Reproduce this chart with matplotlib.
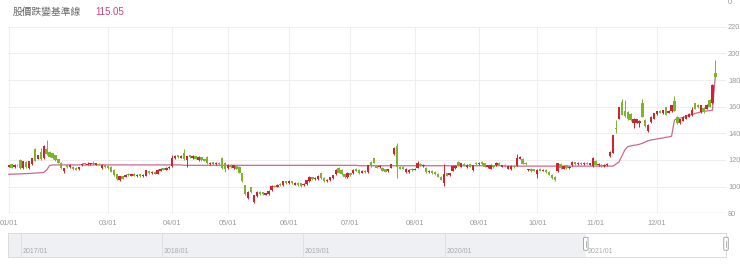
import matplotlib.pyplot as plt
import numpy as np
from matplotlib.patches import FancyBboxPatch
from matplotlib.transforms import IdentityTransform

plt.rcParams['font.family'] = ['Liberation Sans', 'Noto Sans CJK TC', 'DejaVu Sans']

title_text = "股價跌變基準線"
title_value = "115.05"

# trading-day index where each month starts (02/01 label is hidden in the original)
month_labels = ["01/01", "03/01", "04/01", "05/01", "06/01", "07/01",
                "08/01", "09/01", "10/01", "11/01", "12/01"]
month_pos = [0, 34, 56, 75, 96, 117, 139, 161, 181, 201, 222]
price_ticks = [80, 100, 120, 140, 160, 180, 200, 220]

# overview slider (years)
slider_years = [2017, 2018, 2019, 2020, 2021]
slider_range = (2016.908, 2021.993)
window = (2021.0, 2021.993)

opens = [
    115.0, 116.8, 114.5, 116.5, 120.0, 114.0, 118.5, 114.0, 116.8, 128.5,
    121.0, 126.0, 121.5, 128.5, 126.0, 125.0, 123.5, 120.5, 117.8, 111.5,
    116.0, 114.5, 114.8, 114.0, 113.0, 116.2, 117.5, 116.5, 116.8, 117.6,
    116.5, 117.3, 114.0, 116.0, 115.2, 114.8, 112.5, 109.3, 105.2, 107.8,
    107.5, 109.5, 108.2, 109.5, 108.0, 109.2, 108.0, 108.3, 111.5, 110.0,
    111.0, 109.8, 112.0, 113.8, 112.8, 114.0, 115.5, 121.5, 123.5, 121.8,
    125.0, 120.0, 123.5, 121.5, 122.8, 120.0, 122.0, 120.5, 122.5, 117.0,
    118.2, 116.8, 118.0, 121.5, 118.0, 113.8, 116.5, 114.0, 115.5, 114.8,
    110.0, 101.0, 91.5, 99.5, 88.5, 93.0, 96.0, 95.8, 94.0, 94.2,
    97.5, 100.8, 100.0, 102.0, 101.0, 104.0, 102.5, 104.0, 101.5, 102.8,
    102.5, 101.0, 102.0, 104.3, 107.0, 105.5, 105.8, 110.0, 106.5, 104.0,
    105.0, 106.5, 109.3, 114.0, 112.8, 109.3, 107.2, 110.0, 110.0, 113.5,
    112.5, 110.5, 112.0, 111.0, 118.5, 121.3, 116.0, 114.5, 114.0, 113.0,
    111.5, 114.2, 124.5, 130.5, 115.0, 114.8, 111.0, 110.8, 113.2, 112.8,
    114.3, 117.0, 115.5, 114.0, 111.0, 112.0, 111.3, 109.8, 107.5, 102.5,
    110.0, 108.5, 112.0, 114.0, 118.5, 115.0, 117.0, 114.5, 116.8, 112.6,
    118.0, 116.8, 118.5, 117.5, 114.5, 113.5, 116.0, 116.0, 118.0, 115.0,
    116.2, 113.5, 113.2, 115.8, 115.8, 121.0, 120.8, 117.8, 112.3, 113.5,
    113.0, 109.2, 113.2, 112.0, 112.5, 111.0, 109.0, 107.5, 111.5, 117.0,
    113.5, 116.0, 114.0, 116.0, 118.2, 116.8, 118.0, 116.8, 118.0, 116.5,
    115.3, 119.5, 116.2, 116.5, 115.3, 116.0, 123.0, 125.5, 143.8, 151.0,
    163.5, 156.5, 156.0, 154.5, 147.8, 148.0, 147.8, 162.5, 150.0, 141.5,
    148.5, 151.0, 154.5, 156.8, 155.0, 159.5, 155.5, 156.5, 164.0, 152.5,
    147.5, 149.5, 151.0, 152.5, 153.5, 162.5, 161.5, 156.0, 159.0, 158.5,
    165.0, 162.5, 185.0,
]
closes = [
    116.0, 114.2, 116.4, 116.0, 114.0, 119.0, 114.5, 119.0, 121.3, 119.5,
    123.5, 120.5, 130.5, 124.5, 122.5, 121.5, 120.0, 118.0, 114.0, 113.8,
    114.5, 116.3, 113.0, 112.8, 114.5, 117.2, 116.8, 117.3, 117.5, 116.8,
    117.4, 116.6, 116.2, 114.5, 114.0, 111.3, 108.8, 105.5, 107.8, 106.0,
    108.8, 108.5, 109.3, 108.3, 109.0, 108.0, 108.8, 112.3, 110.0, 111.0,
    109.8, 112.5, 113.5, 112.8, 114.2, 115.0, 121.5, 123.0, 122.0, 123.2,
    120.5, 122.8, 122.0, 123.2, 121.0, 122.3, 119.8, 119.5, 117.8, 118.0,
    116.8, 117.8, 117.0, 114.0, 113.5, 116.2, 114.5, 116.0, 113.5, 110.5,
    104.0, 94.5, 96.0, 96.0, 93.5, 96.0, 94.3, 94.2, 95.0, 97.0,
    100.5, 100.0, 101.5, 101.2, 104.0, 102.5, 104.2, 102.8, 103.0, 101.2,
    100.2, 102.0, 104.8, 107.5, 105.8, 106.8, 108.0, 106.5, 104.0, 105.2,
    107.0, 108.5, 112.5, 110.5, 109.5, 107.0, 110.3, 108.5, 112.8, 112.0,
    110.3, 112.0, 111.0, 116.0, 115.3, 118.0, 114.2, 115.5, 112.0, 111.2,
    113.0, 116.8, 129.0, 114.5, 113.5, 113.6, 113.2, 112.5, 112.6, 113.4,
    118.0, 116.0, 116.5, 111.0, 112.0, 110.3, 109.5, 107.5, 105.2, 109.8,
    108.2, 110.0, 115.5, 115.7, 116.0, 117.5, 115.8, 116.5, 115.0, 116.0,
    117.0, 118.0, 117.0, 115.0, 116.0, 116.2, 114.5, 117.8, 116.5, 116.0,
    115.3, 115.8, 115.5, 114.8, 121.8, 122.5, 117.2, 116.8, 112.7, 111.5,
    112.0, 112.5, 112.0, 112.8, 111.0, 109.0, 106.5, 104.8, 117.5, 114.0,
    115.5, 114.0, 115.0, 118.8, 117.0, 117.8, 116.8, 117.8, 117.2, 117.5,
    121.5, 116.5, 117.2, 115.5, 116.2, 117.2, 126.0, 138.5, 143.0, 159.5,
    154.0, 152.8, 150.5, 150.0, 151.0, 150.5, 149.5, 152.5, 145.5, 146.5,
    152.5, 155.0, 156.5, 155.5, 157.2, 154.0, 157.0, 161.0, 157.0, 147.5,
    150.5, 152.5, 153.5, 154.5, 157.5, 158.5, 159.5, 161.0, 156.0, 161.5,
    160.0, 176.5, 182.5,
]
highs = [
    116.5, 117.2, 116.8, 117.0, 121.0, 119.5, 119.0, 119.5, 121.8, 129.0,
    124.0, 129.0, 131.0, 135.0, 126.5, 125.5, 124.0, 121.0, 118.3, 114.2,
    116.5, 116.8, 115.2, 114.5, 115.0, 118.0, 118.0, 118.5, 118.0, 119.0,
    117.9, 117.8, 116.7, 116.5, 115.7, 115.3, 113.0, 109.8, 108.3, 108.3,
    109.3, 110.0, 109.8, 110.0, 109.5, 109.7, 109.3, 112.8, 112.0, 111.5,
    111.5, 113.0, 114.0, 114.3, 114.7, 115.5, 123.7, 123.5, 124.0, 123.7,
    128.5, 123.3, 124.0, 123.7, 123.3, 122.8, 122.5, 121.0, 123.0, 118.5,
    118.7, 118.3, 118.5, 122.0, 118.5, 116.7, 117.0, 116.5, 116.0, 115.3,
    110.5, 101.5, 96.5, 100.0, 94.0, 96.5, 96.5, 96.3, 95.5, 97.5,
    101.0, 101.3, 102.0, 102.5, 104.5, 104.5, 104.7, 104.5, 103.5, 103.3,
    103.0, 102.5, 105.3, 108.0, 107.5, 107.3, 108.5, 110.5, 107.0, 105.7,
    107.5, 109.0, 113.0, 114.5, 113.3, 109.8, 110.8, 110.5, 113.3, 114.0,
    113.0, 112.5, 112.5, 116.5, 119.0, 121.8, 116.5, 116.0, 114.5, 113.5,
    113.5, 117.3, 129.5, 132.5, 115.5, 115.3, 113.7, 113.0, 113.7, 113.9,
    119.0, 117.5, 117.0, 114.5, 112.5, 112.5, 111.8, 110.3, 108.0, 116.8,
    110.5, 110.5, 116.0, 116.2, 119.0, 118.0, 117.5, 117.0, 117.3, 116.5,
    118.5, 118.5, 119.0, 118.0, 116.5, 116.7, 116.5, 118.3, 118.5, 116.5,
    116.7, 116.3, 116.0, 116.3, 124.5, 123.0, 121.3, 118.3, 113.5, 114.0,
    113.5, 113.0, 113.7, 113.3, 113.0, 111.5, 109.5, 108.0, 118.0, 117.5,
    116.0, 116.5, 115.5, 119.3, 118.7, 118.3, 118.5, 118.3, 118.5, 118.0,
    122.0, 120.0, 117.7, 117.0, 116.7, 117.7, 126.5, 139.0, 150.0, 160.0,
    165.5, 165.0, 156.5, 155.0, 151.5, 151.0, 150.0, 165.5, 150.5, 147.0,
    153.0, 155.5, 157.0, 157.3, 157.7, 160.0, 157.5, 161.5, 168.0, 153.0,
    151.0, 153.0, 154.0, 155.0, 160.0, 163.0, 162.0, 161.5, 159.5, 162.0,
    165.5, 177.0, 195.0,
]
lows = [
    114.5, 113.8, 114.0, 115.5, 113.6, 113.5, 114.0, 113.6, 116.3, 119.0,
    120.5, 120.0, 121.0, 124.0, 122.0, 121.0, 119.5, 117.5, 113.5, 110.0,
    114.0, 114.0, 112.6, 112.3, 112.6, 115.8, 116.3, 116.0, 116.3, 116.3,
    116.0, 116.1, 113.5, 114.0, 113.5, 110.8, 108.3, 105.0, 104.5, 105.5,
    107.0, 108.0, 107.8, 107.8, 107.5, 107.5, 107.5, 107.8, 109.5, 109.5,
    109.3, 109.3, 111.5, 112.3, 112.3, 113.5, 115.0, 121.0, 121.5, 121.3,
    120.0, 115.0, 121.5, 121.0, 120.5, 119.5, 119.3, 119.0, 117.3, 116.5,
    116.3, 116.3, 116.5, 113.5, 111.0, 113.3, 114.0, 113.5, 113.0, 110.0,
    103.5, 94.0, 91.0, 95.5, 87.5, 92.5, 93.8, 93.7, 93.5, 93.7,
    97.0, 99.5, 99.5, 100.7, 100.5, 102.0, 102.0, 102.3, 101.0, 100.7,
    99.7, 100.5, 101.5, 103.8, 105.3, 105.0, 105.3, 106.0, 103.5, 103.5,
    104.5, 106.0, 108.8, 110.0, 109.0, 106.5, 106.7, 108.0, 109.5, 111.5,
    109.8, 110.0, 110.5, 110.5, 114.8, 117.5, 113.7, 114.0, 111.5, 110.7,
    111.0, 113.7, 124.0, 106.5, 113.0, 113.1, 110.5, 110.3, 112.1, 112.3,
    113.8, 115.5, 115.0, 110.5, 110.5, 109.8, 109.0, 107.0, 104.7, 100.8,
    107.7, 108.0, 111.5, 113.5, 115.5, 114.5, 115.3, 114.0, 114.5, 112.1,
    116.5, 116.3, 116.5, 114.5, 114.0, 113.0, 114.0, 115.5, 116.0, 114.5,
    114.8, 113.0, 112.7, 114.3, 115.3, 120.5, 116.7, 116.3, 111.5, 111.0,
    111.5, 106.8, 111.5, 111.5, 110.5, 108.5, 106.0, 104.3, 111.0, 113.5,
    113.0, 113.5, 113.5, 115.5, 116.5, 116.3, 116.3, 116.3, 116.7, 116.0,
    114.8, 116.0, 115.7, 115.0, 114.8, 115.5, 122.5, 125.0, 140.0, 150.5,
    153.5, 152.3, 150.0, 149.5, 144.0, 147.5, 144.5, 152.0, 145.0, 141.0,
    148.0, 150.5, 154.0, 155.0, 154.5, 153.5, 155.0, 156.0, 156.5, 147.0,
    147.0, 149.0, 150.5, 152.0, 153.0, 158.0, 159.0, 155.5, 155.5, 158.0,
    159.5, 162.0, 181.0,
]
baseline = [
    109.3, 109.4, 109.4, 109.5, 109.6, 109.7, 109.8, 109.9, 110.0, 110.2,
    110.3, 110.5, 110.7, 112.5, 115.7, 116.3, 116.3, 116.3, 116.3, 116.3,
    116.3, 116.3, 116.3, 116.3, 116.3, 116.3, 116.3, 116.3, 116.3, 116.3,
    116.3, 116.3, 116.3, 116.3, 116.3, 116.3, 116.3, 116.3, 116.3, 116.3,
    116.3, 116.3, 116.3, 116.3, 116.3, 116.3, 116.3, 116.3, 116.3, 116.3,
    116.3, 116.3, 116.3, 116.3, 116.3, 116.3, 116.3, 116.3, 116.3, 116.3,
    116.0, 116.0, 116.0, 116.0, 116.0, 116.0, 116.0, 116.0, 116.0, 116.0,
    116.0, 116.0, 116.0, 116.0, 116.0, 116.0, 116.0, 116.0, 116.0, 116.0,
    116.0, 116.0, 116.0, 116.0, 116.0, 116.0, 116.0, 116.0, 116.0, 116.0,
    116.0, 116.0, 116.0, 116.0, 116.0, 116.0, 116.0, 116.0, 116.0, 116.0,
    116.0, 116.0, 116.0, 116.0, 116.0, 116.0, 116.0, 116.0, 116.0, 116.0,
    116.0, 116.0, 116.0, 116.0, 116.0, 116.0, 116.0, 116.0, 116.0, 116.0,
    115.7, 115.7, 115.7, 115.7, 115.7, 115.7, 115.7, 115.7, 115.7, 115.7,
    115.7, 115.7, 115.7, 115.7, 115.7, 115.7, 115.7, 115.7, 115.7, 115.7,
    115.7, 115.7, 115.7, 115.7, 115.7, 115.7, 115.7, 115.7, 115.7, 115.7,
    115.7, 115.7, 115.7, 115.7, 115.7, 115.7, 115.7, 115.7, 115.7, 115.7,
    115.7, 115.7, 115.7, 115.7, 115.7, 115.7, 115.7, 115.7, 115.7, 115.7,
    115.4, 115.4, 115.4, 115.4, 115.4, 115.4, 115.4, 115.4, 115.4, 115.4,
    115.4, 115.4, 115.4, 115.4, 115.4, 115.4, 115.4, 115.4, 115.4, 115.4,
    115.4, 115.4, 115.4, 115.4, 115.4, 115.4, 115.4, 115.4, 115.4, 115.4,
    115.4, 115.4, 115.4, 115.4, 115.4, 115.4, 115.4, 115.4, 117.0, 118.5,
    123.0, 127.5, 130.0, 130.5, 131.0, 131.3, 131.8, 132.5, 133.5, 134.5,
    135.0, 135.3, 135.8, 136.2, 136.5, 137.0, 137.3, 137.8, 150.0, 151.0,
    151.5, 152.0, 152.8, 153.5, 154.0, 154.8, 155.5, 156.0, 156.5, 156.8,
    157.0, 157.3, 183.0,
]

RED = "#d0232f"
GREEN = "#7db42c"
LINE = "#cd6890"
GRID = "#eeeeee"
TXT = "#9a9a9a"

o = np.array(opens)
c = np.array(closes)
h = np.array(highs)
l = np.array(lows)
x = np.arange(len(o))
cols = np.where(c >= o, RED, GREEN)

W, H = 740, 277
fig = plt.figure(figsize=(W / 100, H / 100), dpi=100)

# ---- main candlestick chart ----
ax = fig.add_axes([8 / W, 1 - 213.3 / H, 718 / W, (213.3 - 26.7) / H])
ax.set_xlim(-0.24, 245.65)
ax.set_ylim(80, 220)
for s in ax.spines.values():
    s.set_visible(False)
ax.axhline(80, color="#cfcfcf", lw=0.9, zorder=1)

ax.set_yticks(price_ticks)
ax.yaxis.tick_right()
ax.tick_params(axis="y", length=0, pad=1.5, labelsize=5.3, labelcolor=TXT)
ax.set_xticks(month_pos)
ax.set_xticklabels(month_labels)
ax.tick_params(axis="x", length=0, pad=5, labelsize=5.3, labelcolor=TXT)
ax.get_xticklabels()[0].set_x(2)
ax.grid(color=GRID, lw=0.7)
ax.set_axisbelow(True)

ax.plot(x, baseline, color=LINE, lw=0.9, zorder=2)
ax.vlines(x, l, h, colors=cols, lw=0.7, zorder=3)
ax.bar(x, np.maximum(np.abs(c - o), 0.6), bottom=np.minimum(o, c),
       width=0.82, color=cols, lw=0, zorder=4)

# ---- header ----
fig.text(13 / W, 1 - 12 / H, title_text, fontsize=7, color="#666666",
         va="center", family=["Noto Sans CJK TC"])
fig.text(95 / W, 1 - 12 / H, title_value, fontsize=7, color="#c4467a", va="center")
fig.text(728 / W, 1 - 2 / H, "0", fontsize=5.3, color=TXT, va="center")

# ---- overview slider ----
sx = fig.add_axes([8 / W, (H - 257) / H, 718 / W, 24 / H])
sx.set_xlim(*slider_range)
sx.set_ylim(0, 1)
sx.set_xticks([])
sx.set_yticks([])
for s in sx.spines.values():
    s.set_color("#d9dbde")
    s.set_linewidth(0.7)
sx.axvspan(slider_range[0], window[0], color="#eef0f3", lw=0)
sx.vlines(slider_years[:-1], 0, 1, color="#dcdee2", lw=0.6)
for yr in slider_years:
    sx.text(yr + 0.012, 0.22, f"{yr}/01", fontsize=5, color="#aaaaaa", va="center")
sx.plot(window, [1, 1], color="#c8cacd", lw=0.8)

fig.canvas.draw()
for hx in window:
    px, py = sx.transData.transform((hx, 0.55))
    fig.patches.append(FancyBboxPatch((px - 2.3, py - 6.5), 4.6, 13,
                                      boxstyle="round,pad=0,rounding_size=1.2",
                                      transform=IdentityTransform(),
                                      fc="white", ec="#a8a8a8", lw=0.7, zorder=5))
    fig.lines.append(plt.Line2D([px, px], [py - 3, py + 3], transform=IdentityTransform(),
                                color="#a8a8a8", lw=0.6, zorder=6))

fig.savefig("out.png", dpi=100)
